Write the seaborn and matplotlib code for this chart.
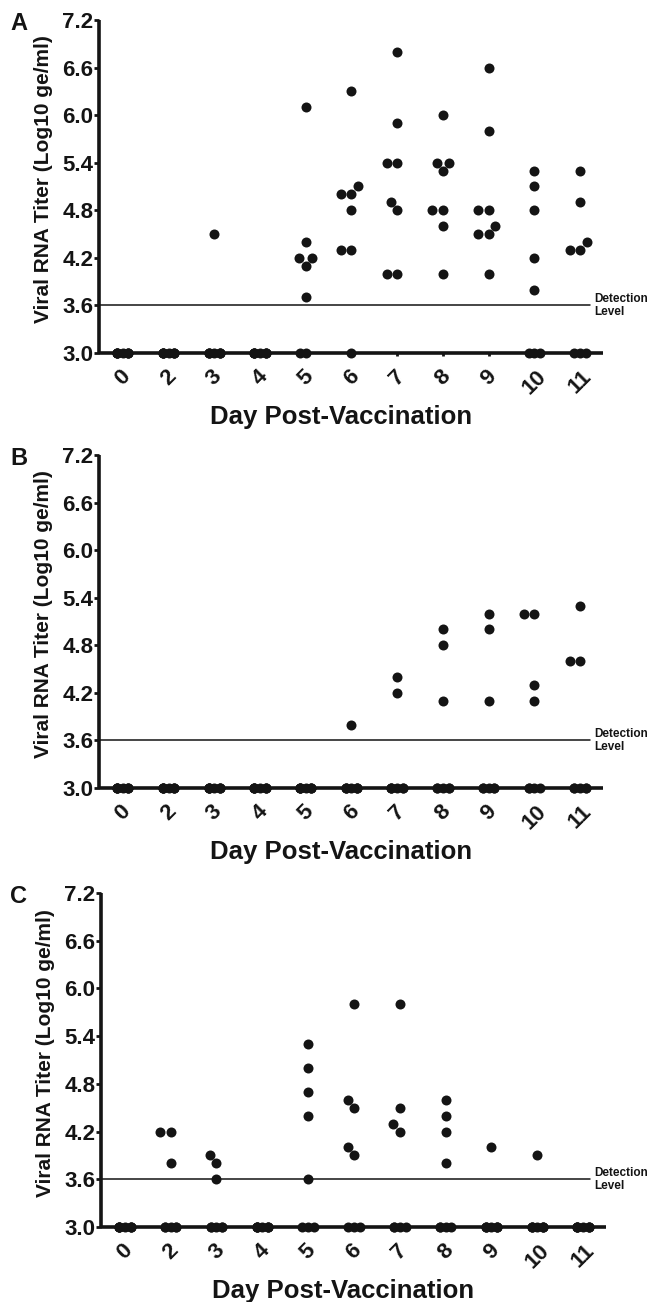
import warnings
warnings.filterwarnings("ignore")
import pandas as pd
import matplotlib
matplotlib.use("Agg")
import matplotlib.pyplot as plt
import matplotlib.transforms as mtransforms
import seaborn as sns

# ---------------- data ----------------
days = ["0", "2", "3", "4", "5", "6", "7", "8", "9", "10", "11"]
y_ticks = [3.0, 3.6, 4.2, 4.8, 5.4, 6.0, 6.6, 7.2]
detection_level = 3.6
floor_value = 3.0

titers_a = [
    [3.0] * 8,
    [3.0] * 8,
    [4.5] + [3.0] * 7,
    [3.0] * 8,
    [6.1, 4.4, 4.2, 4.2, 4.1, 3.7, 3.0, 3.0],
    [6.3, 5.1, 5.0, 5.0, 4.8, 4.3, 4.3, 3.0],
    [6.8, 5.9, 5.4, 5.4, 4.9, 4.8, 4.0, 4.0],
    [6.0, 5.4, 5.4, 5.3, 4.8, 4.8, 4.6, 4.0],
    [6.6, 5.8, 4.8, 4.8, 4.6, 4.5, 4.5, 4.0],
    [5.3, 5.1, 4.8, 4.2, 3.8, 3.0, 3.0, 3.0],
    [5.3, 4.9, 4.4, 4.3, 4.3, 3.0, 3.0, 3.0],
]
titers_b = [
    [3.0] * 8,
    [3.0] * 8,
    [3.0] * 8,
    [3.0] * 8,
    [3.0] * 8,
    [3.8] + [3.0] * 7,
    [4.4, 4.2] + [3.0] * 6,
    [5.0, 4.8, 4.1] + [3.0] * 5,
    [5.2, 5.0, 4.1] + [3.0] * 5,
    [5.2, 5.2, 4.3, 4.1] + [3.0] * 4,
    [5.3, 4.6, 4.6] + [3.0] * 5,
]
titers_c = [
    [3.0] * 8,
    [4.2, 4.2, 3.8] + [3.0] * 5,
    [3.9, 3.8, 3.6] + [3.0] * 5,
    [3.0] * 8,
    [5.3, 5.0, 4.7, 4.4, 3.6, 3.0, 3.0, 3.0],
    [5.8, 4.6, 4.5, 4.0, 3.9, 3.0, 3.0, 3.0],
    [5.8, 4.5, 4.3, 4.2, 3.0, 3.0, 3.0, 3.0],
    [4.6, 4.4, 4.2, 3.8, 3.0, 3.0, 3.0, 3.0],
    [4.0] + [3.0] * 7,
    [3.9] + [3.0] * 7,
    [3.0] * 8,
]
panel_letters = ["A", "B", "C"]
xlabel_text = "Day Post-Vaccination"
ylabel_text = "Viral RNA Titer (Log10 ge/ml)"
detection_text = "Detection\nLevel"

# ---------------- style ----------------
sns.set_theme(style="ticks")
plt.rcParams["font.family"] = ["Liberation Sans", "DejaVu Sans"]
plt.rcParams["font.weight"] = "bold"
plt.rcParams["axes.labelweight"] = "bold"

INK = "#141414"
W, H = 649, 1302
fig = plt.figure(figsize=(W / 100, H / 100), dpi=100)
fig.patch.set_facecolor("white")

# axes boxes in pixels: left, top, right, bottom
boxes = [(99, 20, 603, 353), (99, 455, 603, 788), (101, 893, 606, 1227)]
XLIM = (-0.52, 10.5)
YLIM = (3.0, 7.2)
# the floor values are swarmed in an overlay axes whose x units are
# STRETCH times finer, so their swarm is STRETCH times narrower
STRETCH = 3.2


def to_frame(titers):
    rows = []
    for i, (d, vals) in enumerate(zip(days, titers)):
        for v in vals:
            rows.append((d, i, v))
    return pd.DataFrame(rows, columns=["day", "pos", "titer"])


for letter, titers, (l, t, r, b) in zip(panel_letters, [titers_a, titers_b, titers_c], boxes):
    rect = [l / W, 1 - b / H, (r - l) / W, (b - t) / H]
    ax = fig.add_axes(rect)
    ax.set_facecolor("white")
    df = to_frame(titers)
    detected = df[df["titer"] > floor_value]
    undetected = df[df["titer"] <= floor_value]

    sns.swarmplot(data=detected, x="day", y="titer", order=days, color=INK,
                  size=7.2, linewidth=0, ax=ax, clip_on=False, zorder=4)

    # overlay for the floor values
    ov = fig.add_axes(rect, zorder=ax.get_zorder() + 1)
    ov.patch.set_visible(False)
    for pos, grp in undetected.groupby("pos"):
        g = grp.assign(xs=grp["pos"] * STRETCH)
        sns.swarmplot(data=g, x="xs", y="titer", native_scale=True, color=INK,
                      size=7.2, linewidth=0, ax=ov, clip_on=False, zorder=4,
                      warn_thresh=1)
    ov.set_xlim(XLIM[0] * STRETCH, XLIM[1] * STRETCH)
    ov.set_ylim(*YLIM)
    ov.axis("off")

    ax.set_xlim(*XLIM)
    ax.set_ylim(*YLIM)
    ax.set_yticks(y_ticks)
    ax.set_yticklabels([f"{v:.1f}" for v in y_ticks])

    for side in ["top", "right"]:
        ax.spines[side].set_visible(False)
    for side in ["left", "bottom"]:
        ax.spines[side].set_linewidth(2.6)
        ax.spines[side].set_color(INK)
        ax.spines[side].set_capstyle("butt")

    ax.tick_params(axis="y", length=3.6, width=2, pad=0.5, labelsize=16,
                   direction="out", color=INK, labelcolor=INK)
    ax.tick_params(axis="x", length=2.5, width=2, pad=7, labelsize=16,
                   direction="out", color=INK, labelcolor=INK)
    for lab in ax.get_xticklabels():
        lab.set_rotation(45)
        lab.set_ha("center")
        lab.set_fontweight("bold")
    for lab in ax.get_yticklabels():
        lab.set_fontweight("bold")

    # detection level line and label
    ax.axhline(detection_level, xmin=0, xmax=(590 - l) / (r - l), color=INK,
               lw=1.1, zorder=1)
    trans = mtransforms.blended_transform_factory(ax.transAxes, ax.transData)
    ax.text((594 - l) / (r - l), detection_level, detection_text, transform=trans,
            ha="left", va="center", fontsize=8.5, fontweight="bold", color=INK,
            clip_on=False, linespacing=1.15)

    ax.set_xlabel(xlabel_text, fontsize=18.5, fontweight="bold", color=INK)
    ax.xaxis.set_label_coords(0.48, -0.155)
    ax.set_ylabel(ylabel_text, fontsize=15, fontweight="bold", color=INK)
    ax.yaxis.set_label_coords(-0.091, 0.522)

    fig.text(10 / W, 1 - (t + 10) / H, letter, fontsize=17, fontweight="bold",
             ha="left", va="baseline", color=INK)

fig.savefig("out.png", dpi=100, facecolor="white")
